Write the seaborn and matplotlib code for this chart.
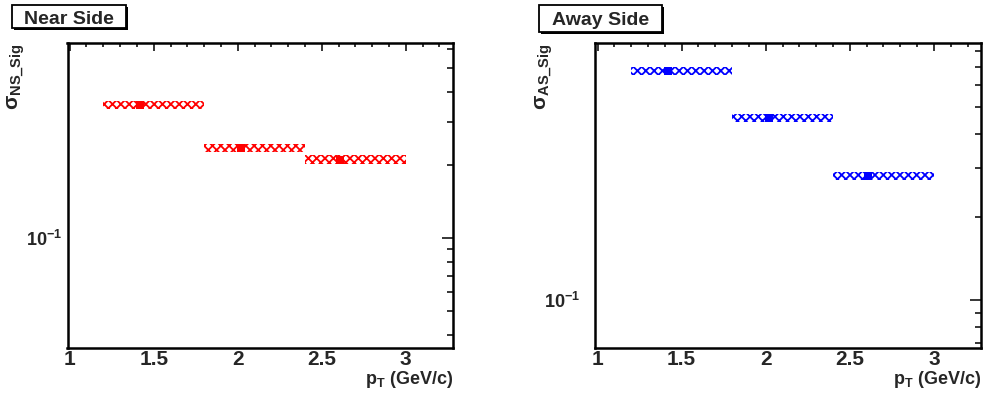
import numpy as np
import pandas as pd
import matplotlib
matplotlib.use('Agg')
import matplotlib.pyplot as plt
import seaborn as sns
from matplotlib.ticker import (MultipleLocator, FixedLocator, FixedFormatter,
                               NullFormatter, FuncFormatter)
from matplotlib.patches import Rectangle

# ---------------- data ----------------
pt_mean = [1.42, 2.02, 2.61]
bin_lo = [1.2, 1.8, 2.4]
bin_hi = [1.8, 2.4, 3.0]

ns_sig = [0.354, 0.2345, 0.210]
ns_lo = [0.340, 0.226, 0.2016]
ns_hi = [0.367, 0.244, 0.219]

as_sig = [0.676, 0.457, 0.282]
as_lo = [0.655, 0.442, 0.272]
as_hi = [0.697, 0.473, 0.292]

x_ticks = [1, 1.5, 2, 2.5, 3]
y_major = [0.1]
y_major_labels = ['$10^{-1}$']
y_minor = [0.03, 0.04, 0.05, 0.06, 0.07, 0.08, 0.09, 0.2, 0.3, 0.4, 0.5, 0.6, 0.7, 0.8, 0.9]

titles = ['Near Side', 'Away Side']
ylabels = [r'$\sigma_{NS\_Sig}$', r'$\sigma_{AS\_Sig}$']
xlabel = r'$p_{T}$ (GeV/c)'

# ---------------- style ----------------
sns.set_theme(style='white')
plt.rcParams['font.family'] = ['Liberation Sans', 'DejaVu Sans']
plt.rcParams['font.weight'] = 'bold'
plt.rcParams['mathtext.fontset'] = 'custom'
plt.rcParams['mathtext.rm'] = 'Liberation Sans:bold'
plt.rcParams['mathtext.it'] = 'Liberation Sans:bold'
plt.rcParams['mathtext.bf'] = 'Liberation Sans:bold'
plt.rcParams['mathtext.sf'] = 'Liberation Sans:bold'
plt.rcParams['mathtext.default'] = 'rm'
plt.rcParams['hatch.linewidth'] = 1.3
plt.rcParams['axes.linewidth'] = 1.6
plt.rcParams['axes.edgecolor'] = 'black'

W, H = 985, 400
fig = plt.figure(figsize=(W / 100, H / 100), dpi=100)
fig.patch.set_facecolor('white')


def fx(px):
    return px / W


def fy(py):
    return 1 - py / H


panels = [
    dict(sig=ns_sig, lo=ns_lo, hi=ns_hi, color='#ff0000', ylim=(0.03526, 0.634),
         left=67.5, right=453.3, xlim=(0.987, 3.283), ypad=3.6,
         title=titles[0], ylabel=ylabels[0],
         tbox=(12, 5, 126, 28), tbase=23.5, ylx=16),
    dict(sig=as_sig, lo=as_lo, hi=as_hi, color='#0000ff', ylim=(0.0670, 0.853),
         left=595, right=981, xlim=(0.985, 3.28), ypad=11,
         title=titles[1], ylabel=ylabels[1],
         tbox=(539, 5, 662, 32), tbase=25, ylx=544),
]

top_px, bot_px = 43, 348

for p in panels:
    ax = fig.add_axes([fx(p['left']), fy(bot_px), fx(p['right'] - p['left']),
                       (bot_px - top_px) / H])
    ax.set_facecolor('white')
    ax.set_yscale('log')

    centers = [(a + b) / 2 for a, b in zip(bin_lo, bin_hi)]
    widths = [b - a for a, b in zip(bin_lo, bin_hi)]
    heights = [h - l for l, h in zip(p['lo'], p['hi'])]
    ax.bar(centers, heights, bottom=p['lo'], width=widths, fill=False,
           hatch='xxxx', edgecolor=p['color'], linewidth=0, zorder=2)

    df = pd.DataFrame({'pt': pt_mean, 'sig': p['sig']})
    sns.scatterplot(data=df, x='pt', y='sig', marker='s', s=40, color=p['color'],
                    linewidth=0, ax=ax, zorder=3, legend=False)

    ax.set_xlim(*p['xlim'])
    ax.set_ylim(*p['ylim'])
    ax.set_xlabel('')
    ax.set_ylabel('')

    ax.xaxis.set_major_locator(FixedLocator(x_ticks))
    ax.xaxis.set_minor_locator(MultipleLocator(0.1))
    ax.xaxis.set_major_formatter(FuncFormatter(lambda v, pos: f'{v:g}'))
    ax.yaxis.set_major_locator(FixedLocator(y_major))
    ax.yaxis.set_major_formatter(FixedFormatter(y_major_labels))
    ax.yaxis.set_minor_locator(FixedLocator(y_minor))
    ax.yaxis.set_minor_formatter(NullFormatter())

    ax.tick_params(which='both', direction='in', top=True, right=True,
                   color='black', width=1.1)
    ax.tick_params(axis='x', which='major', length=6, pad=1.5, labelsize=15)
    ax.tick_params(axis='x', which='minor', length=2.6)
    ax.tick_params(axis='y', which='major', length=8, pad=p['ypad'], labelsize=13)
    ax.tick_params(axis='y', which='minor', length=4)
    for lab in ax.get_xticklabels() + ax.get_yticklabels():
        lab.set_fontweight('bold')
    for s in ax.spines.values():
        s.set_visible(True)
        s.set_linewidth(1.8)
        s.set_color('black')

    # x label at bottom right
    fig.text(fx(p['right']), fy(384), xlabel, ha='right', va='baseline',
             fontsize=13, fontweight='bold')
    # y label rotated, aligned to top of axis
    fig.text(fx(p['ylx']), fy(top_px), p['ylabel'], rotation=90, ha='center',
             va='top', fontsize=15, fontweight='bold')

    # title box with shadow
    x0, y0, x1, y1 = p['tbox']
    fig.patches.append(Rectangle((fx(x0 + 2), fy(y1 + 2)), fx(x1 - x0), (y1 - y0) / H,
                                 transform=fig.transFigure, facecolor='black',
                                 edgecolor='black', linewidth=0))
    fig.patches.append(Rectangle((fx(x0), fy(y1)), fx(x1 - x0), (y1 - y0) / H,
                                 transform=fig.transFigure, facecolor='white',
                                 edgecolor='black', linewidth=1.3))
    fig.text(fx((x0 + x1) / 2), fy(p['tbase']), p['title'], ha='center',
             va='baseline', fontsize=14, fontweight='bold')

fig.savefig('out.png', dpi=100)
